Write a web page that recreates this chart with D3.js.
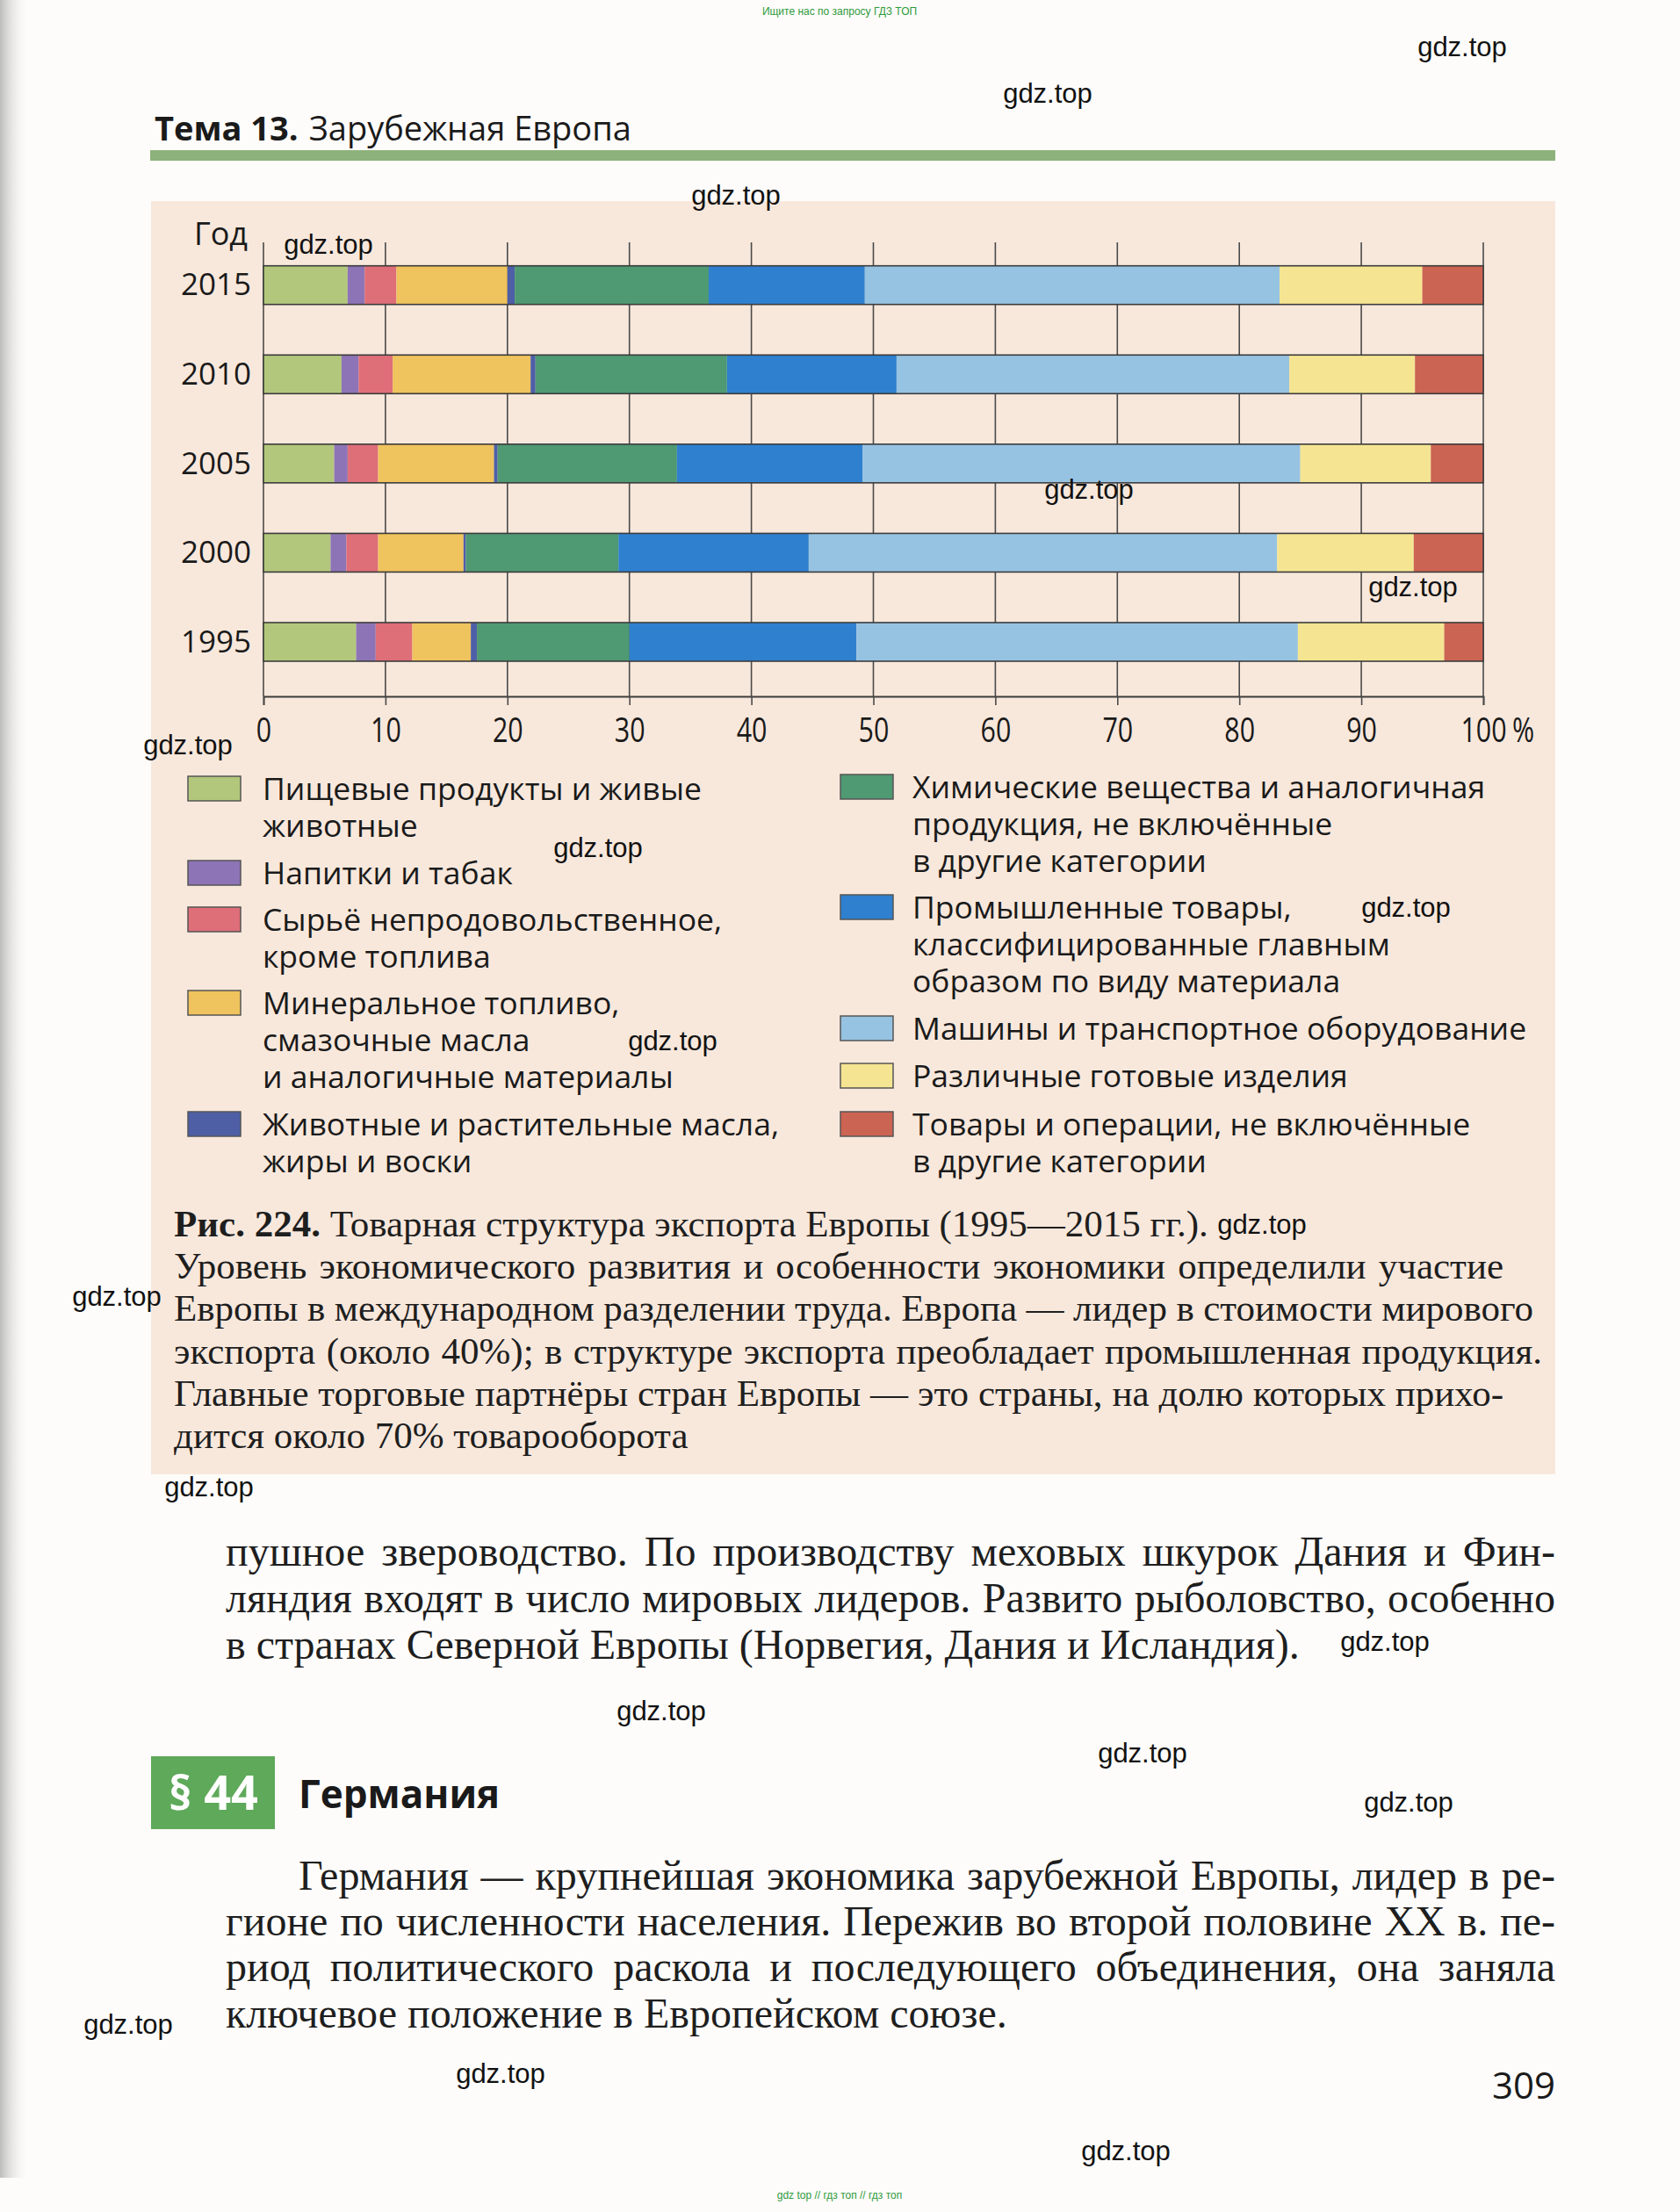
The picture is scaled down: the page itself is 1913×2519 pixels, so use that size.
<!DOCTYPE html>
<html><head><meta charset="utf-8">
<script src="https://cdn.jsdelivr.net/npm/d3@7"></script>
<style>
body{margin:0;background:#fdfcfa}
svg{display:block}
</style>
</head><body>
<svg id="c" width="1913" height="2519"></svg>
<script>
// ---------- DATA ----------
const years = ["2015", "2010", "2005", "2000", "1995"];
const seriesKeys = ["food", "drinks", "raw", "fuel", "oils", "chem", "manuf", "mach", "misc", "other"];
const categories = [
  ["Пищевые продукты и живые", "животные"],
  ["Напитки и табак"],
  ["Сырьё непродовольственное,", "кроме топлива"],
  ["Минеральное топливо,", "смазочные масла", "и аналогичные материалы"],
  ["Животные и растительные масла,", "жиры и воски"],
  ["Химические вещества и аналогичная", "продукция, не включённые", "в другие категории"],
  ["Промышленные товары,", "классифицированные главным", "образом по виду материала"],
  ["Машины и транспортное оборудование"],
  ["Различные готовые изделия"],
  ["Товары и операции, не включённые", "в другие категории"]
];
// values in % for years 2015, 2010, 2005, 2000, 1995
const foodValues   = [6.9, 6.4, 5.8, 5.5, 7.6];
const drinksValues = [1.4, 1.4, 1.1, 1.3, 1.6];
const rawValues    = [2.6, 2.8, 2.5, 2.6, 3.0];
const fuelValues   = [9.1, 11.3, 9.5, 7.0, 4.8];
const oilsValues   = [0.6, 0.4, 0.3, 0.2, 0.5];
const chemValues   = [15.9, 15.7, 14.7, 12.5, 12.5];
const manufValues  = [12.8, 13.9, 15.2, 15.6, 18.6];
const machValues   = [34.0, 32.2, 35.9, 38.4, 36.2];
const miscValues   = [11.7, 10.3, 10.7, 11.2, 12.0];
const otherValues  = [5.0, 5.6, 4.3, 5.7, 3.2];
const xTickValues = [0, 10, 20, 30, 40, 50, 60, 70, 80, 90, 100];
const colors = ["#b3c77c", "#8d74b6", "#de6e78", "#efc35d", "#4e5fa6", "#4f9973", "#2f80cf", "#97c3e2", "#f5e592", "#cc6453"];

const seriesValues = [foodValues, drinksValues, rawValues, fuelValues, oilsValues, chemValues, manufValues, machValues, miscValues, otherValues];
const table = years.map((y, i) => {
  const row = {year: y};
  seriesKeys.forEach((k, j) => row[k] = seriesValues[j][i]);
  return row;
});

// ---------- SETUP ----------
const svg = d3.select("#c");
const SANS = "'Open Sans', 'Noto Sans', sans-serif";
const SERIF = "'Liberation Serif', 'DejaVu Serif', serif";

// binding shadow on left
const defs = svg.append("defs");
const lg = defs.append("linearGradient").attr("id", "shadow").attr("x1", 0).attr("x2", 1);
lg.append("stop").attr("offset", 0).attr("stop-color", "#bdbdbd");
lg.append("stop").attr("offset", 1).attr("stop-color", "#fdfcfa").attr("stop-opacity", 0);
svg.append("rect").attr("x", 0).attr("y", 0).attr("width", 34).attr("height", 2480).attr("fill", "url(#shadow)");

// top/bottom small site text
svg.append("text").attr("x", 956).attr("y", 17).attr("text-anchor", "middle")
  .attr("font-family", "'Liberation Sans', Arial, sans-serif").attr("font-size", 12).attr("fill", "#2f9a3c")
  .text("Ищите нас по запросу ГДЗ ТОП");
svg.append("text").attr("x", 956).attr("y", 2504).attr("text-anchor", "middle")
  .attr("font-family", "'Liberation Sans', Arial, sans-serif").attr("font-size", 12).attr("fill", "#2f9a3c")
  .text("gdz top // гдз топ // гдз топ");

// header
const hdr = svg.append("text").attr("x", 176).attr("y", 160).attr("font-family", SANS).attr("font-size", 38).attr("fill", "#1a1a1a");
hdr.append("tspan").attr("font-weight", 700).text("Тема 13.");
hdr.append("tspan").attr("dx", 12).text("Зарубежная Европа");
svg.append("rect").attr("x", 171).attr("y", 171).attr("width", 1600).attr("height", 12).attr("fill", "#8db27b");

// peach box
svg.append("rect").attr("x", 172).attr("y", 229).attr("width", 1599).attr("height", 1450).attr("fill", "#f8e8dc");

// ---------- CHART ----------
const x = d3.scaleLinear().domain([0, 100]).range([300, 1689]);
const y = d3.scalePoint().domain(years).range([324.7, 731]);
const barH = 44;
const gridTop = 276, axisY = 793;

const chart = svg.append("g");
// gridlines
chart.append("g").selectAll("line").data(xTickValues).join("line")
  .attr("x1", d => x(d)).attr("x2", d => x(d))
  .attr("y1", gridTop).attr("y2", axisY)
  .attr("stroke", "#4a4a4a").attr("stroke-width", 1.6);

// bars
const stack = d3.stack().keys(seriesKeys)(table);
chart.append("g").selectAll("g").data(stack).join("g")
  .attr("fill", (d, i) => colors[i])
  .selectAll("rect").data(d => d).join("rect")
  .attr("x", d => x(d[0]))
  .attr("width", d => x(d[1]) - x(d[0]))
  .attr("y", d => y(d.data.year) - barH / 2)
  .attr("height", barH);
// bar outlines
chart.append("g").selectAll("rect").data(years).join("rect")
  .attr("x", x(0)).attr("width", x(100) - x(0))
  .attr("y", d => y(d) - barH / 2).attr("height", barH)
  .attr("fill", "none").attr("stroke", "#3c3c3c").attr("stroke-width", 1.6);

// x axis
const xAxis = chart.append("g").attr("transform", `translate(0,${axisY})`)
  .call(d3.axisBottom(x).tickValues(xTickValues).tickSize(10).tickPadding(15).tickFormat(d3.format("d")));
xAxis.select(".domain").attr("stroke", "#3c3c3c").attr("stroke-width", 1.8);
xAxis.selectAll(".tick line").attr("stroke", "#4a4a4a").attr("stroke-width", 1.6);
xAxis.selectAll(".tick text").attr("font-family", SANS).attr("font-size", 38).attr("fill", "#1a1a1a")
  .attr("transform", "scale(0.8,1)");
chart.append("text").attr("x", x(100) + 33).attr("y", 845).attr("font-family", SANS).attr("font-size", 38)
  .attr("fill", "#1a1a1a").attr("transform", `translate(${x(100) + 33},0) scale(0.8,1) translate(${-(x(100) + 33)},0)`)
  .text("%");

// y labels
const yAxis = chart.append("g").attr("transform", "translate(286,0)")
  .call(d3.axisLeft(y).tickSize(0).tickPadding(0));
yAxis.select(".domain").remove();
yAxis.selectAll(".tick text").attr("font-family", SANS).attr("font-size", 35).attr("fill", "#1a1a1a");
chart.append("text").attr("x", 282).attr("y", 279).attr("text-anchor", "end")
  .attr("font-family", SANS).attr("font-size", 36).attr("fill", "#1a1a1a").text("Год");

// ---------- LEGEND ----------
const legendRows = [
  {col: 0, cy: 898}, {col: 0, cy: 994}, {col: 0, cy: 1047}, {col: 0, cy: 1142}, {col: 0, cy: 1280},
  {col: 1, cy: 896}, {col: 1, cy: 1033}, {col: 1, cy: 1171}, {col: 1, cy: 1225}, {col: 1, cy: 1280}
];
const colX = [{sq: 214, tx: 299}, {sq: 957, tx: 1039}];
const leg = svg.append("g").selectAll("g").data(seriesKeys).join("g");
leg.append("rect")
  .attr("x", (d, i) => colX[legendRows[i].col].sq)
  .attr("y", (d, i) => legendRows[i].cy - 14)
  .attr("width", 60).attr("height", 28)
  .attr("fill", (d, i) => colors[i]).attr("stroke", "#555").attr("stroke-width", 1.5);
leg.append("text")
  .attr("font-family", SANS).attr("font-size", 35.5).attr("fill", "#1a1a1a")
  .each(function (d, i) {
    const t = d3.select(this);
    categories[i].forEach((line, k) => {
      t.append("tspan").attr("x", colX[legendRows[i].col].tx)
        .attr("y", legendRows[i].cy + 13 + k * 42).text(line);
    });
  });

// ---------- TEXT BLOCKS ----------
function justifiedLine(str, x0, x1, yy, size) {
  const words = str.split(" ");
  const g = svg.append("g").attr("font-family", SERIF).attr("font-size", size).attr("fill", "#1e1e1e");
  const nodes = words.map(w => g.append("text").attr("y", yy).text(w));
  const widths = nodes.map(n => n.node().getComputedTextLength());
  const total = d3.sum(widths);
  const minGap = size * 0.18;
  let gap = words.length > 1 ? (x1 - x0 - total) / (words.length - 1) : 0;
  let k = 1;
  if (gap < minGap) {
    gap = minGap;
    k = (x1 - x0) / (total + minGap * (words.length - 1));
  }
  let cx = x0;
  nodes.forEach((n, i) => { n.attr("x", cx); cx += widths[i] + gap; });
  if (k !== 1) g.attr("transform", `translate(${x0},0) scale(${k},1) translate(${-x0},0)`);
}
function plainLine(str, x0, yy, size) {
  svg.append("text").attr("x", x0).attr("y", yy).attr("font-family", SERIF).attr("font-size", size)
    .attr("fill", "#1e1e1e").text(str);
}

// caption
const CAP = 43, BODY = 48;
const cap = svg.append("text").attr("x", 198).attr("y", 1408).attr("font-family", SERIF).attr("font-size", CAP).attr("fill", "#1e1e1e");
cap.append("tspan").attr("font-weight", 700).text("Рис. 224.");
cap.append("tspan").text(" Товарная структура экспорта Европы (1995—2015 гг.).");
justifiedLine("Уровень экономического развития и особенности экономики определили участие", 198, 1712, 1456, CAP);
justifiedLine("Европы в международном разделении труда. Европа — лидер в стоимости мирового", 198, 1746, 1504, CAP);
justifiedLine("экспорта (около 40%); в структуре экспорта преобладает промышленная продукция.", 198, 1756, 1553, CAP);
justifiedLine("Главные торговые партнёры стран Европы — это страны, на долю которых прихо-", 198, 1712, 1601, CAP);
plainLine("дится около 70% товарооборота", 198, 1649, CAP);

// body text
justifiedLine("пушное звероводство. По производству меховых шкурок Дания и Фин-", 257, 1771, 1783, BODY);
justifiedLine("ляндия входят в число мировых лидеров. Развито рыболовство, особенно", 257, 1771, 1836, BODY);
plainLine("в странах Северной Европы (Норвегия, Дания и Исландия).", 257, 1889, BODY);

// section heading
svg.append("rect").attr("x", 172).attr("y", 2000).attr("width", 141).attr("height", 83).attr("fill", "#5ea95a");
svg.append("text").attr("x", 243).attr("y", 2061).attr("text-anchor", "middle").attr("font-family", SANS)
  .attr("font-weight", 700).attr("font-size", 54).attr("fill", "#ffffff").text("§ 44");
svg.append("text").attr("x", 340).attr("y", 2059).attr("font-family", SANS)
  .attr("font-weight", 700).attr("font-size", 44).attr("fill", "#1a1a1a").text("Германия");

justifiedLine("Германия — крупнейшая экономика зарубежной Европы, лидер в ре-", 340, 1771, 2152, BODY);
justifiedLine("гионе по численности населения. Пережив во второй половине XX в. пе-", 257, 1771, 2204, BODY);
justifiedLine("риод политического раскола и последующего объединения, она заняла", 257, 1771, 2256, BODY);
plainLine("ключевое положение в Европейском союзе.", 257, 2309, BODY);

// page number
svg.append("text").attr("x", 1771).attr("y", 2390).attr("text-anchor", "end").attr("font-family", SANS)
  .attr("font-size", 42).attr("fill", "#1a1a1a").text("309");

// watermarks
const watermarks = [[1665,53],[1193,106],[838,222],[374,278],[1240,557],[1609,668],[214,848],[681,965],[1601,1033],[766,1185],[1437,1394],[133,1476],[238,1693],[1577,1869],[753,1948],[1301,1996],[1604,2052],[146,2305],[570,2361],[1282,2449]];
svg.append("g").selectAll("text").data(watermarks).join("text")
  .attr("x", d => d[0]).attr("y", d => d[1]).attr("dy", "0.35em").attr("text-anchor", "middle")
  .attr("font-family", "'Liberation Sans', Arial, sans-serif").attr("font-size", 31).attr("fill", "#111")
  .text("gdz.top");
</script>
</body></html>
